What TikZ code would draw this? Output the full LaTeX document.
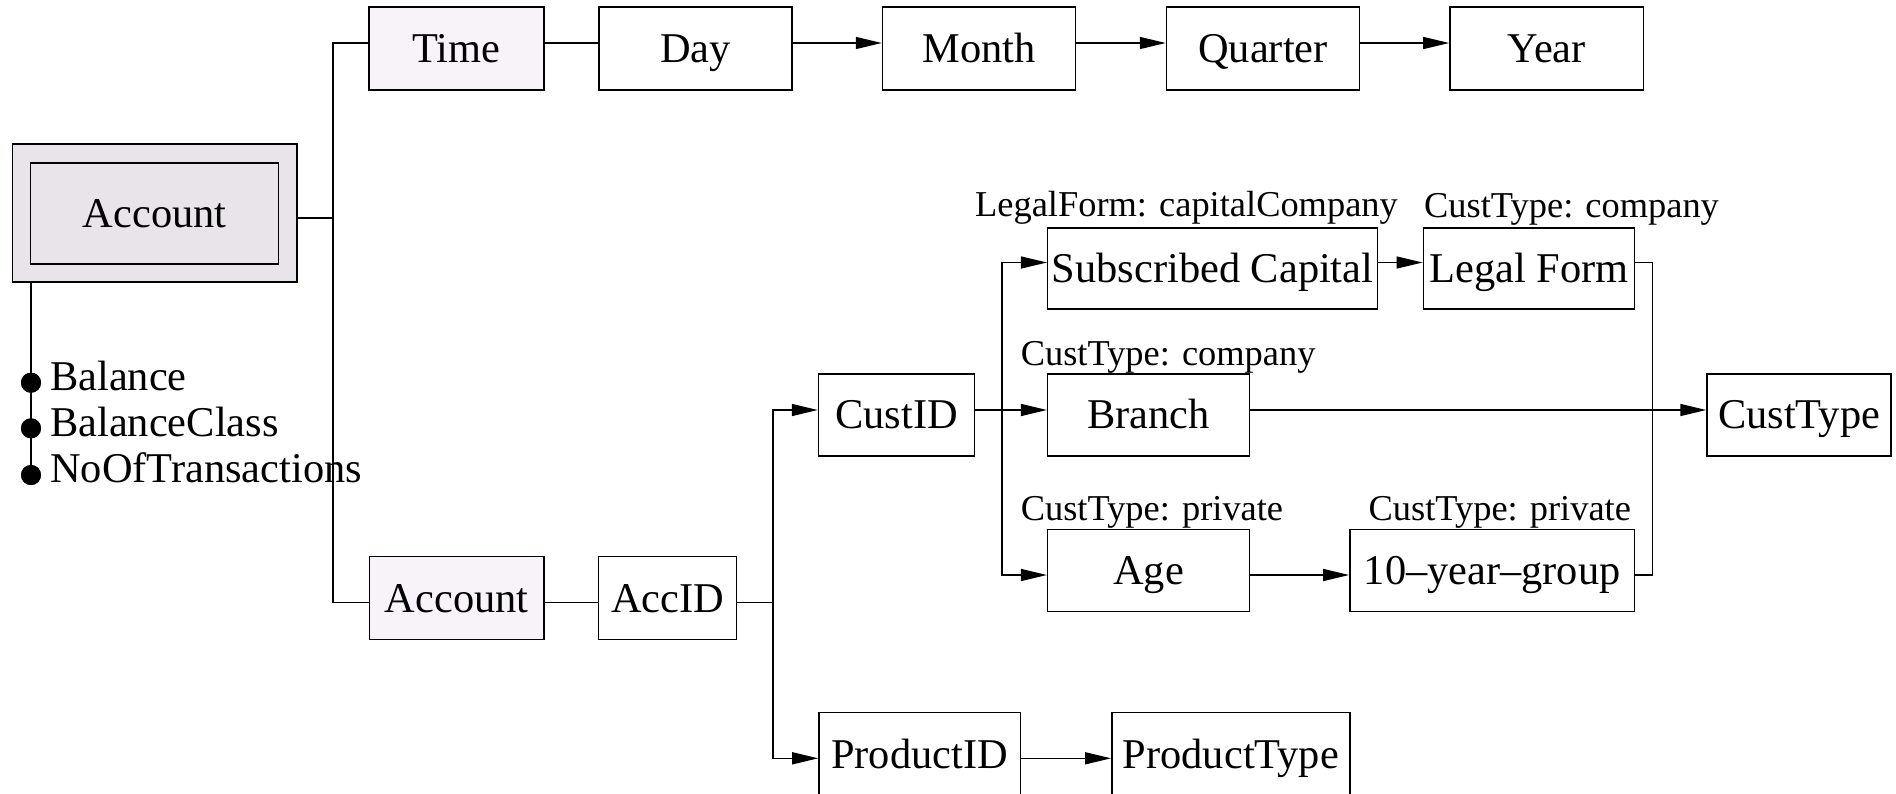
\documentclass[tikz,border=0pt]{standalone}
\usepackage{fontspec}
\setmainfont{Liberation Serif}
\usetikzlibrary{arrows.meta,calc}
\definecolor{accfill}{RGB}{232,228,233}
\definecolor{dimfill}{RGB}{247,243,248}
\newcommand\bxfont{\fontsize{42.4}{50}\selectfont}
\newcommand\lbfont{\fontsize{36.4}{44}\selectfont}
\begin{document}
\begin{tikzpicture}[x=1pt,y=-1pt,
  box/.style={draw=black, line width=1.5pt, fill=white, inner sep=0pt,
    minimum height=83pt, text height=28pt, text depth=0pt, font=\bxfont},
  lbl/.style={anchor=base west, inner sep=0pt, font=\lbfont},
  attr/.style={anchor=base west, inner sep=0pt, font=\bxfont},
  dot/.style={circle, fill=black, inner sep=0pt, minimum size=20pt},
  conn/.style={line width=1.5pt},
  arr/.style={conn, -{Triangle[length=26pt,width=12pt]}}]
\useasboundingbox (0,0) rectangle (1896,793);

% Account (fact)
\node[box, fill=accfill, minimum width=284.4pt, minimum height=138pt] (accout) at (154.8,213) {};
\node[box, fill=accfill, minimum width=248pt, minimum height=101pt] (accin) at (154.6,213.5) {Account};

% attributes
\node[dot] (d1) at (31,382.7) {};
\node[dot] (d2) at (31,428.3) {};
\node[dot] (d3) at (31,475) {};
\draw[conn] (accout.south -| d1) -- (d3.center);
\node[dot] at (d1) {};
\node[dot] at (d2) {};
\node[dot] at (d3) {};
\node[attr] (a1) at (50,390.7) {Balance};
\node[attr] (a2) at (50,436.7) {BalanceClass};
\node[attr] (a3) at (50,482.7) {NoOfTransactions};

% top row
\node[box, fill=dimfill, minimum width=175pt] (time) at (456.5,48.5) {Time};
\node[box, minimum width=193pt] (day) at (695.5,48.5) {Day};
\node[box, minimum width=193pt] (month) at (979,48.5) {Month};
\node[box, minimum width=193pt] (quarter) at (1263,48.5) {Quarter};
\node[box, minimum width=193.5pt] (year) at (1546.7,48.5) {Year};

% lower dimension
\node[box, fill=dimfill, minimum width=174.5pt, minimum height=82.6pt] (acc2) at (456.6,598) {Account};
\node[box, minimum width=138.2pt, minimum height=82.6pt] (accid) at (667.6,598) {AccID};

\node[box, minimum width=156pt, minimum height=82.3pt] (custid) at (896.5,414.9) {CustID};
\node[box, minimum width=201.7pt, minimum height=82.3pt] (branch) at (1148.5,414.9) {Branch};
\node[box, minimum width=184pt, minimum height=82.3pt] (custtype) at (1799,414.9) {CustType};
\node[box, minimum width=329.8pt, minimum height=81.3pt] (sub) at (1212.6,268.4) {Subscribed Capital};
\node[box, minimum width=211pt, minimum height=81.3pt] (legal) at (1528.8,268.4) {Legal Form};
\node[box, minimum width=201.7pt, minimum height=82.4pt] (age) at (1148.5,570.5) {Age};
\node[box, minimum width=284.7pt, minimum height=82.4pt] (ten) at (1492.2,570.5) {10–year–group};
\node[box, minimum width=201.3pt] (prodid) at (919.6,754) {ProductID};
\node[box, minimum width=238.2pt] (prodtype) at (1230.9,754) {ProductType};

% labels
\node[lbl] (l1) at (975,216.7) {LegalForm: capitalCompany};
\node[lbl] (l2) at (1424,217) {CustType: company};
\node[lbl] (l3) at (1020.6,365) {CustType: company};
\node[lbl] (l4) at (1020.6,520) {CustType: private};
\node[lbl] (l5) at (1368.4,520) {CustType: private};

% junctions
\coordinate (j1) at (333,218);
\coordinate (j2) at (773,602.7);
\coordinate (j3) at (1001.8,410);
\coordinate (j4) at (1652.3,410);

% connectors
\draw[conn] ([yshift=5.5pt]time.west) -| (j1) |- ([yshift=-4.7pt]acc2.west);
\draw[conn] ([yshift=-5pt]accout.east) -- (j1);
\draw[conn] ([yshift=5.5pt]time.east) -- ([yshift=5.5pt]day.west);
\draw[arr] ([yshift=5.5pt]day.east) -- ([yshift=5.5pt]month.west);
\draw[arr] ([yshift=5.5pt]month.east) -- ([yshift=5.5pt]quarter.west);
\draw[arr] ([yshift=5.5pt]quarter.east) -- ([yshift=5.5pt]year.west);

\draw[conn] ([yshift=-4.7pt]acc2.east) -- ([yshift=-4.7pt]accid.west);
\draw[conn] ([yshift=-4.7pt]accid.east) -- (j2);
\draw[arr] (j2) |- ([yshift=4.9pt]custid.west);
\draw[arr] (j2) |- ([yshift=-4.3pt]prodid.west);
\draw[arr] ([yshift=-4.3pt]prodid.east) -- ([yshift=-4.3pt]prodtype.west);

\draw[arr] ([yshift=4.9pt]custid.east) -- ([yshift=4.9pt]branch.west);
\draw[arr] (j3) |- ([yshift=5.9pt]sub.west);
\draw[arr] (j3) |- ([yshift=-4.5pt]age.west);
\draw[arr] ([yshift=5.9pt]sub.east) -- ([yshift=5.9pt]legal.west);
\draw[arr] ([yshift=-4.5pt]age.east) -- ([yshift=-4.5pt]ten.west);
\draw[arr] ([yshift=4.9pt]branch.east) -- ([yshift=4.9pt]custtype.west);
\draw[conn] ([yshift=5.9pt]legal.east) -| (j4) |- ([yshift=-4.5pt]ten.east);
\end{tikzpicture}
\end{document}
